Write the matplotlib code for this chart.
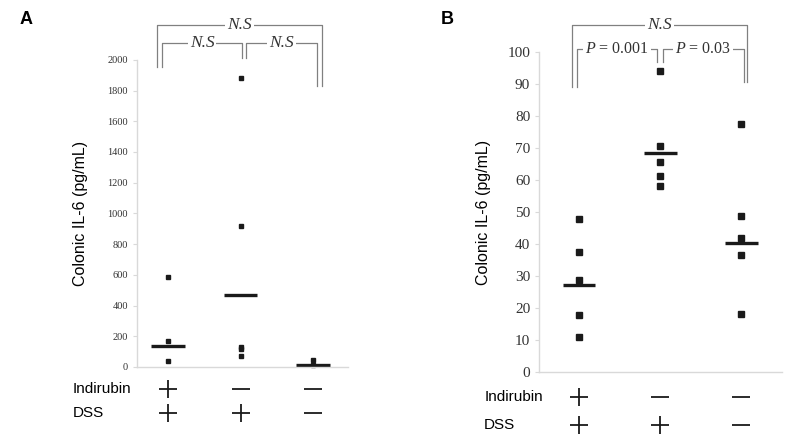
import matplotlib
matplotlib.use("Agg")
import matplotlib.pyplot as plt

plt.rcParams["mathtext.fontset"] = "custom"
plt.rcParams["mathtext.it"] = "Liberation Serif:italic"
plt.rcParams["mathtext.rm"] = "Liberation Serif"

# -------------------------------------------------------------------
# Data
# -------------------------------------------------------------------
groups = [1, 2, 3]
indirubin = ["+", "-", "-"]
dss = ["+", "+", "-"]

a_vals = [
    [586, 171, 41],
    [1880, 918, 132, 118, 72],
    [45, 15],
]
a_means = [137, 471, 13]

b_vals = [
    [47.8, 37.5, 28.9, 17.7, 10.9],
    [94.0, 70.7, 65.5, 61.4, 58.1],
    [77.5, 48.7, 42.0, 36.5, 18.0],
]
b_means = [27.1, 68.5, 40.4]

a_ticks = list(range(0, 2001, 200))
b_ticks = list(range(0, 101, 10))

# brackets: (x1, x2, top, left leg end, right leg end, label, italic)
a_brackets = [
    (0.85, 3.12, 2228, 1954, 1830, "N.S", True),
    (0.92, 2.02, 2111, 1954, 2013, "N.S", True),
    (2.08, 3.06, 2111, 2013, 1830, "N.S", True),
]
b_brackets = [
    (0.91, 3.07, 108.4, 89.1, 90.6, "N.S", True),
    (0.97, 1.96, 100.9, 89.1, 96.9, "$P$ = 0.001", False),
    (2.03, 3.03, 100.9, 96.9, 90.6, "$P$ = 0.03", False),
]

fig = plt.figure(figsize=(8, 4.4), dpi=100)
axA = fig.add_axes([0.171, 0.166, 0.264, 0.698])
axB = fig.add_axes([0.674, 0.1545, 0.304, 0.727])

spine_col = "#d9d9d9"
brk_col = "#808080"


def style_axis(ax, ticks, tick_fs, xlim):
    ax.set_xlim(*xlim)
    ax.set_ylim(ticks[0], ticks[-1])
    ax.set_yticks(ticks)
    ax.set_xticks([])
    for s in ["top", "right"]:
        ax.spines[s].set_visible(False)
    for s in ["left", "bottom"]:
        ax.spines[s].set_color(spine_col)
        ax.spines[s].set_linewidth(1.0)
    ax.tick_params(axis="y", length=3, color=spine_col, labelsize=tick_fs,
                   labelcolor="#333333", labelfontfamily="Liberation Serif")


def draw_points(ax, vals, means, ms, half):
    for g, v, m in zip(groups, vals, means):
        ax.plot([g] * len(v), v, ls="none", marker="s", ms=ms,
                color="#1a1a1a", mec="#1a1a1a", clip_on=False)
        ax.plot([g - half, g + half], [m, m], color="#1a1a1a", lw=2.4,
                solid_capstyle="butt", clip_on=False)


def draw_brackets(ax, brackets):
    for x1, x2, top, y1, y2, label, ital in brackets:
        ax.plot([x1, x1, x2, x2], [y1, top, top, y2], color=brk_col,
                lw=0.9, clip_on=False)
        ax.text((x1 + x2) / 2, top, label, ha="center", va="center",
                fontsize=12.5 if ital else 11.5,
                style="italic" if ital else "normal",
                family="Liberation Serif", color="#333333",
                bbox=dict(facecolor="white", edgecolor="none", pad=1.5))


def draw_signs(ax, y_ind, y_dss, label_x, fs):
    tr = ax.get_xaxis_transform()
    ax.text(label_x, y_ind, "Indirubin", transform=tr, ha="left",
            va="center", fontsize=fs, family="Liberation Sans")
    ax.text(label_x, y_dss, "DSS", transform=tr, ha="left",
            va="center", fontsize=fs, family="Liberation Sans")
    for row, y in [(indirubin, y_ind), (dss, y_dss)]:
        for g, s in zip(groups, row):
            ax.plot([g], [y], transform=tr, marker="+" if s == "+" else "_",
                    ms=12.5, mew=1.3, color="#1a1a1a", clip_on=False)


# Panel A
style_axis(axA, a_ticks, 7.5, (0.572, 3.48))
draw_points(axA, a_vals, a_means, 2.4, 0.23)
draw_brackets(axA, a_brackets)
draw_signs(axA, -0.072, -0.150, -0.31, 11)
axA.set_ylabel("Colonic IL-6 (pg/mL)", fontsize=11.5,
               family="Liberation Sans", labelpad=14)

# Panel B
style_axis(axB, b_ticks, 11, (0.506, 3.506))
draw_points(axB, b_vals, b_means, 4.6, 0.2)
draw_brackets(axB, b_brackets)
draw_signs(axB, -0.078, -0.166, -0.173, 11)
axB.set_ylabel("Colonic IL-6 (pg/mL)", fontsize=11.5,
               family="Liberation Sans", labelpad=12)

fig.text(0.025, 0.955, "A", fontsize=13, fontweight="bold",
         family="Liberation Sans", va="center")
fig.text(0.551, 0.955, "B", fontsize=13, fontweight="bold",
         family="Liberation Sans", va="center")

fig.savefig("out.png", dpi=100)
